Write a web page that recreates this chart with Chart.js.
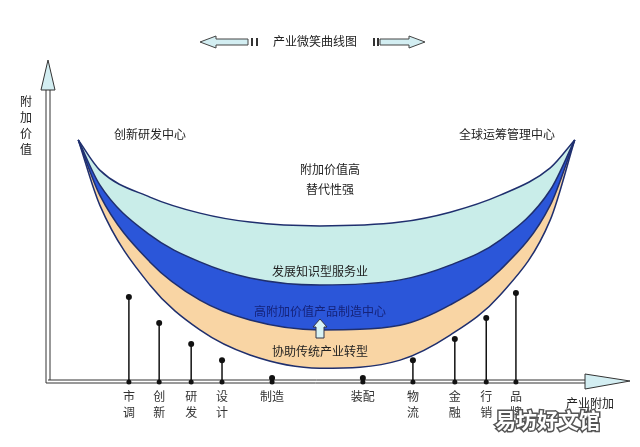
<!DOCTYPE html>
<html><head><meta charset="utf-8">
<script src="https://cdn.jsdelivr.net/npm/chart.js@4"></script>
<style>html,body{margin:0;background:#fff}#w{width:640px;height:447px}</style>
</head><body><div id="w"><canvas id="c"></canvas></div>
<script>
const curveX = [5.2, 8.9, 17.5, 26.1, 34.7, 46.7, 60.5, 69.1, 77.7, 86.3, 90.5];
const topCurve = [75.1, 65.7, 57.3, 52.3, 49.5, 48.3, 49.5, 52.6, 57.9, 66.4, 75.1];
const cyanBlue = [75.1, 61.1, 45.5, 37.1, 32.1, 29.9, 31.5, 36.1, 43.9, 59.5, 75.1];
const blueOrange = [75.1, 57.9, 37.1, 25.2, 19.0, 15.9, 17.4, 23.7, 34.6, 54.8, 75.1];
const bottomCurve = [75.1, 54.8, 29.9, 15.9, 8.1, 4.0, 6.5, 14.3, 26.8, 50.2, 75.1];
const chainLabels = [["市","调"],["创","新"],["研","发"],["设","计"],["制造"],["装配"],["物","流"],["金","融"],["行","销"],["品","牌"]];
const chainX = [13.9, 19.1, 24.6, 29.9, 38.5, 54.1, 62.7, 69.9, 75.3, 80.4];
const chainValue = [26.2, 18.1, 11.5, 6.5, 0.9, 0.9, 6.5, 13.1, 19.6, 27.4];

const pts = ys => curveX.map((x,i)=>({x, y: ys[i]}));
const line = '#1f2f6e';
const overlay = {
  id:'overlay',
  afterDatasetsDraw(ch){
    const {ctx, scales:{x, y}} = ch;
    const y0 = y.getPixelForValue(0);
    ctx.save();
    const F = '"Noto Sans CJK SC", sans-serif';
    // axes
    ctx.strokeStyle = '#333'; ctx.lineWidth = 1;
    const xl = x.getPixelForValue(0), xr = x.getPixelForValue(100), yt = y.getPixelForValue(100);
    ctx.beginPath(); ctx.moveTo(xl-2, y0+2); ctx.lineTo(xr-45, y0+2); ctx.moveTo(xl, y0-1); ctx.lineTo(xr-45, y0-1);
    ctx.moveTo(xl-2, y0+2); ctx.lineTo(xl-2, yt+30); ctx.moveTo(xl+2, y0-1); ctx.lineTo(xl+2, yt+30); ctx.stroke();
    ctx.fillStyle = '#d3eef2';
    ctx.beginPath(); ctx.moveTo(xr-45, y0-7); ctx.lineTo(xr, y0); ctx.lineTo(xr-45, y0+8); ctx.closePath(); ctx.fill(); ctx.stroke();
    ctx.beginPath(); ctx.moveTo(xl-7, yt+30); ctx.lineTo(xl, yt); ctx.lineTo(xl+7, yt+30); ctx.closePath(); ctx.fill(); ctx.stroke();
    // stems
    chainX.forEach((cx,i)=>{
      const px = x.getPixelForValue(cx), py = y.getPixelForValue(chainValue[i]);
      ctx.strokeStyle = '#111'; ctx.lineWidth = 1.5;
      ctx.beginPath(); ctx.moveTo(px, y0); ctx.lineTo(px, py); ctx.stroke();
      ctx.fillStyle = '#111';
      ctx.beginPath(); ctx.arc(px, py, 3, 0, Math.PI*2); ctx.fill();
      ctx.beginPath(); ctx.arc(px, y0+1, 2.5, 0, Math.PI*2); ctx.fill();
      ctx.font = '12px '+F; ctx.textAlign='center'; ctx.fillStyle='#333';
      chainLabels[i].forEach((t,k)=>ctx.fillText(t, px, 401+k*16));
    });
    ctx.textAlign='center'; ctx.font='12px '+F; ctx.fillStyle='#222';
    ctx.fillText('产业附加', 590, 408);
    // texts
    ctx.fillText('创新研发中心', 150, 139);
    ctx.fillText('全球运筹管理中心', 507, 139);
    ctx.fillText('附加价值高', 330, 174);
    ctx.fillText('替代性强', 330, 194);
    ctx.fillText('发展知识型服务业', 320, 276);
    ctx.fillText('协助传统产业转型', 320, 356);
    ctx.fillStyle='#15237a'; ctx.fillText('高附加价值产品制造中心', 320, 316);
    ctx.fillStyle='#222';
    ['附','加','价','值'].forEach((t,k)=>{ctx.textAlign='left'; ctx.fillText(t, 20, 106+k*16);});
    ctx.textAlign='center'; ctx.fillText('产业微笑曲线图', 315, 46);
    // title arrows
    const arrow=(x1,x2,dir)=>{
      ctx.fillStyle='#d3eef2'; ctx.strokeStyle='#444'; ctx.lineWidth=1;
      const tip = dir<0?x1:x2, base = dir<0?x1+16:x2-16, end = dir<0?x2:x1;
      ctx.beginPath(); ctx.moveTo(tip,42); ctx.lineTo(base,36); ctx.lineTo(base,39); ctx.lineTo(end,39); ctx.lineTo(end,45); ctx.lineTo(base,45); ctx.lineTo(base,48); ctx.closePath(); ctx.fill(); ctx.stroke();
    };
    arrow(200,248,-1); arrow(380,425,1);
    ctx.fillStyle='#333'; ctx.fillRect(251,38,2,8); ctx.fillRect(256,38,2,8); ctx.fillRect(373,38,2,8); ctx.fillRect(377,38,2,8);
    // up arrow
    ctx.fillStyle='#d8f3f5'; ctx.strokeStyle='#334'; ctx.lineWidth=1;
    ctx.beginPath(); ctx.moveTo(320,319); ctx.lineTo(327,327); ctx.lineTo(324,327); ctx.lineTo(324,338); ctx.lineTo(316,338); ctx.lineTo(316,327); ctx.lineTo(313,327); ctx.closePath(); ctx.fill(); ctx.stroke();
    // watermark
    ctx.font='bold 21px '+F; ctx.textAlign='left'; ctx.lineWidth=3; ctx.strokeStyle='#555'; ctx.strokeText('易坊好文馆', 495, 428);
    ctx.fillStyle='#fff'; ctx.fillText('易坊好文馆', 495, 428);
    ctx.restore();
  }
};
const ds = (data, fill, bg) => ({data: pts(data), fill, backgroundColor: bg, borderColor: line, borderWidth: 1.5, pointRadius: 0, cubicInterpolationMode: 'monotone'});
new Chart(document.getElementById('c'), {
  type:'line',
  data:{datasets:[
    ds(bottomCurve, false, 'transparent'),
    ds(blueOrange, '-1', '#f9d5a4'),
    ds(cyanBlue, '-1', '#2b56d9'),
    ds(topCurve, '-1', '#c9ede9')
  ]},
  options:{responsive:true, maintainAspectRatio:false, animation:false,
    layout:{padding:{left:48,right:10,top:60,bottom:66}},
    plugins:{legend:{display:false}, tooltip:{enabled:false}},
    scales:{x:{type:'linear',min:0,max:100,display:false}, y:{min:0,max:100,display:false}}},
  plugins:[overlay]
});
</script></body></html>
